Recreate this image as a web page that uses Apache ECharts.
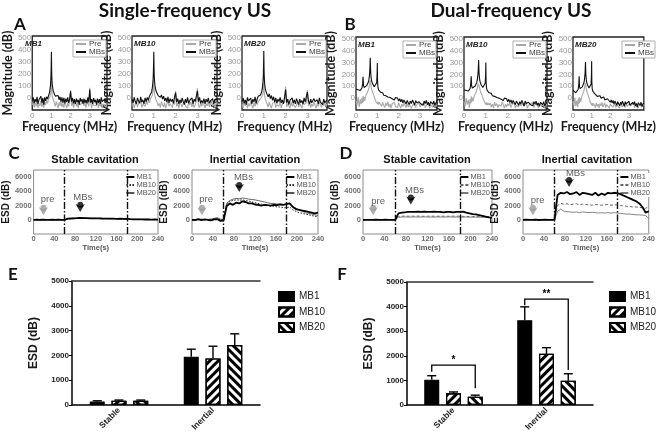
<!DOCTYPE html>
<html><head><meta charset="utf-8">
<script src="https://cdn.jsdelivr.net/npm/echarts/dist/echarts.min.js"></script>
<style>html,body{margin:0;padding:0;background:#fff}#c{width:658px;height:438px}</style>
</head><body><div id="c"></div>
<script>
// ---------------- DATA ----------------
const freqSingle=[0,0.05,0.1,0.15,0.2,0.25,0.3,0.35,0.4,0.45,0.5,0.55,0.6,0.65,0.7,0.75,0.8,0.85,0.9,0.93,0.95,0.97,0.98,0.99,1,1.01,1.02,1.03,1.05,1.07,1.1,1.15,1.2,1.25,1.3,1.35,1.4,1.45,1.5,1.55,1.6,1.65,1.7,1.75,1.8,1.85,1.9,1.95,2,2.05,2.1,2.15,2.2,2.25,2.3,2.35,2.4,2.45,2.5,2.55,2.6,2.65,2.7,2.75,2.8,2.85,2.9,2.95,3,3.05,3.1,3.15,3.2,3.25,3.3,3.35,3.4,3.45,3.5,3.55,3.6,3.65,3.7,3.75,3.8,3.85,3.9];
const sMB1Mbs=[-20,5,-45,-10,-35,10,-50,-15,-30,15,-40,0,-55,5,-25,10,-10,20,45,75,105,155,205,270,385,260,185,145,105,80,55,35,15,30,0,20,-15,10,-30,5,-40,0,-45,-5,-35,5,-40,-10,55,-30,0,-45,-10,-50,-5,-35,-15,-55,0,-30,-10,-50,-5,-40,-15,-45,5,-35,70,-40,-10,-50,0,-35,-15,-55,-5,-40,-10,-50,5,-30,-15,-45,-5,-35,-20];
const sMB1Pre=[-60,-30,-80,-40,-70,-20,-85,-45,-65,-25,-75,-35,-80,-30,-60,-20,-45,-10,0,15,30,50,70,95,140,90,60,35,10,-5,-20,-40,-70,-30,-60,-85,-35,-65,-25,-75,-45,-80,-30,-60,-85,-40,-70,-20,65,-65,-35,-80,-50,-25,-70,-40,-85,-30,-60,-75,-45,-20,-65,-35,-80,-50,-25,-70,85,-40,-85,-30,-60,-75,-45,-65,-25,-80,-40,-70,-30,-85,-50,-60,-35,-75,-45];
const sMB10Mbs=[-10,-40,5,-30,-50,0,-25,-45,10,-35,-15,-50,0,-30,5,-20,15,25,50,80,115,160,215,280,385,265,190,150,110,85,60,40,20,35,5,25,-10,15,-25,0,-35,10,-40,-5,-30,-10,-45,5,45,-35,-5,-50,-15,-40,0,-30,-55,-10,-40,5,-45,-20,-35,0,-50,-10,-30,-45,60,-30,5,-45,-20,-40,-5,-50,-10,-35,0,-45,-25,-40,-5,-50,-15,-30,-10];
const sMB10Pre=[-70,-40,-85,-50,-30,-75,-45,-60,-20,-80,-50,-35,-70,-25,-55,-15,-40,-5,5,20,35,55,80,100,150,95,65,40,15,0,-15,-35,-65,-45,-80,-30,-55,-75,-40,-85,-50,-25,-70,-45,-60,-80,-35,-55,60,-70,-40,-85,-30,-55,-75,-45,-20,-65,-50,-85,-35,-60,-30,-75,-45,-80,-55,-25,80,-60,-80,-40,-70,-30,-55,-85,-45,-65,-35,-75,-50,-25,-70,-40,-80,-55,-35];
const sMB20Mbs=[-30,0,-45,-15,-55,5,-25,-40,0,-50,-10,-35,10,-45,-5,15,0,25,50,75,110,150,200,275,390,255,185,140,100,75,55,30,10,35,-5,20,-20,10,-35,0,-45,-10,-30,5,-40,-15,-50,0,70,-40,-10,-55,-20,-35,0,-45,-15,-50,-5,-30,-55,-10,-40,-20,-50,0,-35,-45,50,-25,-50,-10,-40,-55,-5,-30,-45,-15,-50,0,-35,-20,-55,-10,-40,-25,-15];
const sMB20Pre=[-50,-80,-35,-65,-20,-85,-45,-70,-30,-60,-85,-40,-70,-25,-55,-30,-15,-5,0,10,25,45,65,90,130,85,55,30,10,-10,-25,-50,-75,-35,-65,-85,-45,-60,-30,-80,-55,-40,-70,-25,-85,-50,-65,-35,95,-75,-45,-60,-85,-30,-70,-50,-40,-80,-60,-25,-75,-45,-65,-85,-35,-55,-70,-40,65,-65,-35,-80,-50,-70,-30,-60,-85,-45,-70,-35,-55,-80,-40,-65,-30,-75,-50];

const freqDual=[0,0.05,0.1,0.15,0.2,0.25,0.28,0.31,0.33,0.35,0.38,0.42,0.46,0.5,0.54,0.58,0.61,0.63,0.65,0.66,0.67,0.68,0.69,0.71,0.74,0.78,0.82,0.86,0.9,0.94,0.97,0.99,1,1.01,1.03,1.06,1.1,1.15,1.2,1.25,1.3,1.35,1.4,1.45,1.5,1.55,1.6,1.65,1.7,1.75,1.8,1.85,1.9,1.95,2,2.05,2.1,2.15,2.2,2.25,2.3,2.35,2.4,2.45,2.5,2.55,2.6,2.65,2.7,2.75,2.8,2.85,2.9,2.95,3,3.05,3.1,3.15,3.2,3.25,3.3,3.35,3.4,3.45,3.5,3.55,3.6,3.65,3.7,3.75,3.8];
const dMB1Mbs=[75,60,70,55,65,70,85,120,180,110,90,95,90,105,115,135,160,190,240,290,340,270,220,170,140,120,105,95,90,95,130,200,295,150,90,70,60,50,35,45,25,40,20,30,10,25,5,20,-5,10,-15,5,-10,0,-25,-5,-30,-10,-40,-15,-30,-50,-20,-35,-55,-25,-45,-15,-35,-60,-20,-40,-55,-30,-15,-50,-35,-60,-25,-45,-20,-55,-35,-65,-30,-15,-50,-25,-60,-40,-30];
const dMB1Pre=[-20,-60,10,-75,-10,-50,0,-40,20,-30,10,-20,20,30,50,70,90,110,130,140,150,135,120,95,70,50,30,10,-10,-30,-15,-40,-20,-50,-30,-55,-35,-45,-70,-35,-60,-80,-40,-65,-30,-75,-50,-85,-45,-60,-35,-70,-55,-80,-40,-65,-85,-50,-70,-35,-60,-80,-45,-75,-55,-40,-85,-60,-70,-45,-80,-55,-65,-35,-75,-85,-50,-65,-40,-80,-60,-70,-45,-85,-55,-65,-75,-40,-80,-60,-70];
const dMB10Mbs=[70,55,65,50,60,65,80,125,185,105,85,90,95,100,110,130,155,185,230,275,320,260,210,165,135,115,100,90,85,90,125,195,300,145,85,65,55,45,30,40,20,35,15,25,5,20,0,15,-10,5,-20,0,-15,-5,-30,-10,-35,-15,-45,-20,-35,-55,-25,-40,-60,-30,-50,-20,-40,-65,-25,-45,-60,-35,-20,-55,-40,-65,-30,-50,-25,-60,-40,-70,-35,-20,-55,-30,-65,-45,-35];
const dMB10Pre=[-30,-70,0,-55,-15,-80,-5,-45,15,-35,5,-25,15,25,45,65,85,105,125,135,140,130,110,90,65,45,25,5,-15,-35,-20,-45,-25,-55,-35,-60,-40,-60,-40,-75,-50,-85,-35,-65,-45,-80,-55,-40,-70,-30,-60,-85,-50,-75,-45,-65,-35,-80,-55,-70,-40,-85,-60,-50,-75,-35,-65,-80,-45,-70,-55,-40,-85,-60,-75,-50,-65,-35,-80,-55,-70,-45,-85,-60,-40,-75,-50,-65,-80,-45,-70];
const dMB20Mbs=[65,50,60,45,55,60,75,120,185,100,80,85,90,95,105,125,150,180,220,265,305,250,200,160,130,110,95,85,80,85,120,190,310,140,80,60,50,40,25,35,15,30,10,20,0,15,-5,10,-15,0,-25,-5,-20,-10,-35,-15,-40,-20,-50,-25,-40,-60,-30,-45,-65,-35,-55,-25,-45,-70,-30,-50,-65,-40,-25,-60,-45,-70,-35,-55,-30,-65,-45,-75,-40,-25,-60,-35,-70,-50,-40];
const dMB20Pre=[-25,-65,5,-70,-20,-75,-10,-50,10,-40,0,-30,10,20,40,60,80,100,115,125,135,120,100,80,60,40,20,0,-20,-40,-25,-50,-30,-60,-40,-65,-45,-55,-80,-40,-70,-50,-85,-45,-65,-35,-75,-60,-40,-80,-55,-70,-45,-85,-50,-65,-35,-75,-60,-45,-80,-55,-70,-40,-85,-50,-65,-75,-45,-60,-80,-35,-70,-55,-85,-45,-65,-50,-75,-40,-80,-60,-70,-45,-85,-55,-65,-40,-75,-60,-50];

const timeS=[0,6,12,18,24,30,36,42,48,54,60,66,72,78,84,90,96,102,108,114,120,126,132,138,144,150,156,162,168,174,180,186,192,198,204,210,216,222,228,234,240];
const cStableMB1=[0,10,-10,20,0,-20,10,0,20,-10,0,150,180,200,220,250,230,220,210,200,190,200,180,170,160,170,150,140,150,130,120,80,60,70,50,60,40,50,30,40,20];
const cStableMB10=[0,-10,10,0,10,-10,0,10,0,10,0,120,160,190,210,230,220,200,200,190,180,170,170,160,150,150,140,130,130,120,110,70,60,50,50,40,40,30,30,20,20];
const cStableMB20=[0,0,-10,10,-10,0,10,-10,10,0,0,130,170,210,240,260,250,230,220,210,200,190,180,180,170,160,150,150,140,130,120,90,70,60,60,50,50,40,40,30,30];
const cInertMB1=[0,-50,100,-50,50,0,-100,50,100,-150,-100,1900,2300,2100,2400,2300,2600,2500,2300,2300,2150,2100,2000,2100,2050,2000,2100,2050,2150,2100,2200,2300,1800,1500,1400,1300,1200,1100,1000,900,1000];
const cInertMB10=[0,0,50,-50,0,50,0,100,50,0,-50,2200,2600,2700,2800,2750,2800,2700,2650,2500,2400,2300,2200,2100,2000,1900,1900,1800,1800,1700,1700,1800,1400,1200,1000,900,800,700,600,500,400];
const cInertMB20=[0,50,0,100,0,50,100,200,300,100,0,2300,2700,2900,3000,2950,3050,3000,2900,2850,2800,2700,2600,2500,2400,2300,2300,2200,2200,2150,2200,2350,1900,1600,1400,1200,1000,900,800,700,600];
const dStableMB1=[0,0,0,-20,10,0,-10,10,0,-10,0,900,1000,1050,1100,1100,1100,1150,1100,1150,1100,1100,1150,1100,1100,1050,1100,1100,1050,1100,1100,1150,1000,900,800,750,650,550,450,350,300];
const dStableMB10=[0,0,10,0,-10,0,10,0,0,0,0,450,500,520,500,510,500,520,500,490,500,510,500,490,500,500,490,500,510,500,500,480,470,460,450,450,440,430,420,410,400];
const dStableMB20=[0,0,0,10,0,-10,0,0,10,0,0,350,380,400,380,390,400,380,390,400,380,390,380,400,390,380,390,400,380,390,380,370,380,370,360,370,360,350,360,350,340];
const dInertMB1=[0,20,-20,0,30,-30,0,20,0,-20,0,3500,3800,3700,3900,3600,3700,3900,3500,3800,3700,3600,3500,3800,3400,3700,3500,3800,3700,3800,3750,3600,3400,3200,3000,2800,2600,2300,1800,1000,1200];
const dInertMB10=[0,0,10,0,-10,0,10,0,0,0,0,2000,2300,2200,2250,2100,2200,2250,2100,2200,2150,2100,2050,2150,2100,2050,2100,2150,2050,2100,2100,2000,1950,1900,1850,1800,1800,1750,1700,1600,1900];
const dInertMB20=[0,0,0,10,0,0,-10,0,10,0,0,1200,1500,1200,1150,1100,1050,1100,1000,1100,1050,1000,1050,1000,950,1000,950,1000,950,1000,950,900,850,800,800,750,700,700,650,600,200];
const phaseLines=[60,180];
// annotation anchors [time, ESD]
const annC1={preText:[27,2900],preDot:[19,1700],preArrow:[19,650],mbText:[95,3200],mbDot:[90,2100],mbArrow:[90,1100]};
const annC2={preText:[27,2900],preDot:[19,1700],preArrow:[19,650],mbText:[98,5900],mbDot:[90,4900],mbArrow:[90,3900]};
const annD1={preText:[28,2600],preDot:[19,1700],preArrow:[19,650],mbText:[96,4200],mbDot:[89,3150],mbArrow:[89,2150]};
const annD2={preText:[28,2700],preDot:[19,1700],preArrow:[19,650],mbText:[100,6500],mbDot:[88,5600],mbArrow:[88,4600]};

const barCats=['Stable','Inertial'];
const seriesNames=['MB1','MB10','MB20'];
const eMB1=[140,1950], eMB1Err=[30,300];
const eMB10=[170,1880], eMB10Err=[30,490];
const eMB20=[170,2420], eMB20Err=[30,450];
const fMB1=[1030,3450], fMB1Err=[160,540];
const fMB10=[480,2080], fMB10Err=[50,250];
const fMB20=[340,990], fMB20Err=[60,280];
const sigCat=[0,1], sigLevel=[1620,4300], sigLeftEnd=[1350,4050], sigRightEnd=[680,1420], sigText=['*','**'];

// ---------------- BUILD ----------------
const FT='"Liberation Sans", Arial, sans-serif';
const FC='Lato, "Open Sans", sans-serif';
const grid=[], xAxis=[], yAxis=[], series=[], legend=[], graphic=[];
const zip=(a,b)=>a.map((x,i)=>[x,b[i]]);
const txt=(x,y,t,font,fill,align)=>graphic.push({type:'text',x,y,z:100,style:{text:t,font,fill:fill||'#111',align:align||'center',verticalAlign:'middle'}});

function addSpectrum(box,xmax,freq,pre,mbs,tag,key){
  const gi=grid.length;
  grid.push({left:box[0],top:box[1],width:box[2],height:box[3],show:true,borderColor:'#222',borderWidth:1.3,backgroundColor:'#fff'});
  xAxis.push({gridIndex:gi,type:'value',min:0,max:xmax,interval:1,axisLine:{show:false},axisTick:{show:false},splitLine:{show:false},
    axisLabel:{color:'#9a9a9a',fontSize:8,margin:2,fontFamily:FT,formatter:v=>Number.isInteger(v)?String(v):''},
    name:'Frequency (MHz)',nameLocation:'middle',nameGap:7,nameTextStyle:{fontFamily:FC,fontWeight:'bold',fontSize:12.5,color:'#1a1a1a'}});
  yAxis.push({gridIndex:gi,type:'value',min:-100,max:515,interval:100,axisLine:{show:false},axisTick:{show:false},splitLine:{show:false},
    axisLabel:{color:'#9a9a9a',fontSize:8,margin:1,fontFamily:FT,formatter:v=>(v>=0&&v<=500&&v%100===0)?String(v):''},
    name:'Magnitude (dB)',nameLocation:'middle',nameGap:9,nameTextStyle:{fontFamily:FC,fontWeight:'bold',fontSize:12.5,color:'#1a1a1a'}});
  series.push({name:'Pre|'+key,type:'line',xAxisIndex:gi,yAxisIndex:gi,data:zip(freq,pre),symbol:'none',lineStyle:{color:'#a9a9a9',width:1.1},itemStyle:{color:'#a9a9a9'},z:2});
  series.push({name:'MBs|'+key,type:'line',xAxisIndex:gi,yAxisIndex:gi,data:zip(freq,mbs),symbol:'none',lineStyle:{color:'#111',width:1.1},itemStyle:{color:'#111'},z:3});
  legend.push({data:['Pre|'+key,'MBs|'+key],right:658-(box[0]+box[2])+1,top:box[1]+4,orient:'vertical',itemWidth:10,itemHeight:6,itemGap:0,
    padding:[0,1,1,2],borderColor:'#b0b0b0',borderWidth:1,backgroundColor:'#fff',selectedMode:false,itemStyle:{opacity:0},
    textStyle:{fontSize:8,color:'#444',fontFamily:FT,padding:[0,0,0,-2]},formatter:n=>n.split('|')[0]});
  txt(box[0]+2,box[1]+7.5,tag,'italic bold 8px '+FT,'#222','left');
}
const specH=74;
addSpectrum([23,36,84,specH],3.9,freqSingle,sMB1Pre,sMB1Mbs,'MB1','A1');
addSpectrum([132,36,85,specH],3.9,freqSingle,sMB10Pre,sMB10Mbs,'MB10','A2');
addSpectrum([242,36,85,specH],3.9,freqSingle,sMB20Pre,sMB20Mbs,'MB20','A3');
addSpectrum([356,37,81,73],3.8,freqDual,dMB1Pre,dMB1Mbs,'MB1','B1');
addSpectrum([464,37,83,73],3.8,freqDual,dMB10Pre,dMB10Mbs,'MB10','B2');
addSpectrum([573,37,83,73],3.8,freqDual,dMB20Pre,dMB20Mbs,'MB20','B3');

function addTime(box,s1,s2,s3,key,style2,col3,ann){
  const gi=grid.length;
  grid.push({left:box[0],top:box[1],width:box[2],height:box[3],show:true,borderColor:'#8a8a8a',borderWidth:1,backgroundColor:'#fff'});
  xAxis.push({gridIndex:gi,type:'value',min:0,max:240,interval:40,axisLine:{show:false},axisTick:{show:false},splitLine:{show:false},
    axisLabel:{color:'#707070',fontSize:7.5,fontWeight:'bold',margin:1,fontFamily:FT},
    name:'Time(s)',nameLocation:'middle',nameGap:6,nameTextStyle:{fontFamily:FT,fontWeight:'bold',fontSize:7.5,color:'#555'}});
  yAxis.push({gridIndex:gi,type:'value',min:-2000,max:7000,interval:2000,axisLine:{show:false},axisTick:{show:false},splitLine:{show:false},
    axisLabel:{color:'#707070',fontSize:7.5,fontWeight:'bold',margin:2,fontFamily:FT,formatter:v=>(v>=0&&v<=6000)?String(v):''},
    name:'ESD (dB)',nameLocation:'middle',nameGap:12,nameTextStyle:{fontFamily:FT,fontWeight:'bold',fontSize:10,color:'#1a1a1a'}});
  const base={type:'line',xAxisIndex:gi,yAxisIndex:gi,symbol:'none'};
  series.push(Object.assign({},base,{name:'MB1|'+key,data:zip(timeS,s1),lineStyle:{color:'#000',width:1.8},itemStyle:{color:'#000'},z:4,
    markLine:{silent:true,symbol:'none',label:{show:false},lineStyle:{color:'#111',width:1.4,type:[7,2,1.5,2]},data:phaseLines.map(v=>({xAxis:v}))}}));
  series.push(Object.assign({},base,{name:'MB10|'+key,data:zip(timeS,s2),lineStyle:style2,itemStyle:{color:style2.color},z:3}));
  series.push(Object.assign({},base,{name:'MB20|'+key,data:zip(timeS,s3),lineStyle:{color:col3,width:0.9},itemStyle:{color:col3},z:3}));
  legend.push({data:['MB1|'+key,'MB10|'+key,'MB20|'+key],right:658-(box[0]+box[2])+1,top:box[1]+3,orient:'vertical',itemWidth:8,itemHeight:5,itemGap:0,
    padding:[0,1,0,1],backgroundColor:'#fff',selectedMode:false,itemStyle:{opacity:0},textStyle:{fontSize:7.5,color:'#555',fontFamily:FT,padding:[0,0,0,-3]},formatter:n=>n.split('|')[0]});
  series.push({type:'scatter',xAxisIndex:gi,yAxisIndex:gi,symbol:'circle',symbolSize:6,z:6,silent:true,
    data:[{value:ann.preDot,itemStyle:{color:'#9a9a9a'}},{value:ann.mbDot,itemStyle:{color:'#000'}}]});
  series.push({type:'scatter',xAxisIndex:gi,yAxisIndex:gi,symbol:'arrow',symbolRotate:180,symbolSize:[7,8],z:6,silent:true,
    data:[{value:ann.preArrow,itemStyle:{color:'#9a9a9a'}},{value:ann.mbArrow,itemStyle:{color:'#000'}}]});
  series.push({type:'scatter',xAxisIndex:gi,yAxisIndex:gi,symbolSize:0,z:6,silent:true,
    label:{show:true,position:'inside',formatter:p=>p.name,fontSize:9.5,color:'#333',fontFamily:FT},
    data:[{name:'pre',value:ann.preText},{name:'MBs',value:ann.mbText}]});
}
addTime([32,170,126,64],cStableMB1,cStableMB10,cStableMB20,'C1',{color:'#222',width:1,type:[1.5,1.5]},'#555',annC1);
addTime([192,170,126,64],cInertMB1,cInertMB10,cInertMB20,'C2',{color:'#222',width:1,type:[1.5,1.5]},'#555',annC2);
addTime([363,170,129,64],dStableMB1,dStableMB10,dStableMB20,'D1',{color:'#666',width:1,type:[3,2]},'#777',annD1);
addTime([523,170,129,64],dInertMB1,dInertMB10,dInertMB20,'D2',{color:'#666',width:1,type:[3,2]},'#777',annD2);

const BAR_W=15, BAR_GAP=0.45, BAR_STEP=BAR_W*(1+BAR_GAP);
const hatch=rot=>({symbol:'rect',symbolSize:1,color:'#000',dashArrayX:[1,0],dashArrayY:[2.2,2.8],rotation:rot});
const barStyles=[{color:'#000',borderColor:'#000',borderWidth:1.2},
  {color:'#fff',borderColor:'#000',borderWidth:1.2,decal:hatch(-Math.PI/4)},
  {color:'#fff',borderColor:'#000',borderWidth:1.2,decal:hatch(Math.PI/4)}];

function addBars(box,vals,errs,key,legPos,sig){
  const gi=grid.length;
  grid.push({left:box[0],top:box[1],width:box[2],height:box[3]});
  const xi=xAxis.length;
  xAxis.push({gridIndex:gi,type:'category',data:barCats,axisLine:{lineStyle:{color:'#000',width:1.5}},axisTick:{alignWithLabel:true,length:3,lineStyle:{color:'#000'}},
    axisLabel:{rotate:45,fontSize:8.5,fontWeight:'bold',color:'#222',fontFamily:FT,margin:4}});
  xAxis.push({gridIndex:gi,type:'category',position:'top',data:barCats,axisLine:{lineStyle:{color:'#333',width:1.5}},axisTick:{show:false},axisLabel:{show:false}});
  yAxis.push({gridIndex:gi,type:'value',min:0,max:5000,interval:1000,axisLine:{show:true,lineStyle:{color:'#000',width:1.5}},axisTick:{show:true,length:3,lineStyle:{color:'#000'}},
    splitLine:{show:false},axisLabel:{fontSize:8,fontWeight:'bold',color:'#222',fontFamily:FT,margin:3,formatter:v=>String(v)},
    name:'ESD (dB)',nameLocation:'middle',nameGap:32,nameTextStyle:{fontFamily:FT,fontWeight:'bold',fontSize:12,color:'#1a1a1a'}});
  vals.forEach((v,i)=>{
    series.push({name:seriesNames[i]+'|'+key,type:'bar',xAxisIndex:xi,yAxisIndex:gi,data:v,barWidth:BAR_W,barGap:(BAR_GAP*100)+'%',itemStyle:barStyles[i],z:2});
  });
  vals.forEach((v,i)=>{
    const off=(i-1)*BAR_STEP;
    series.push({type:'custom',xAxisIndex:xi,yAxisIndex:gi,z:3,silent:true,data:v.map((y,c)=>[c,y,errs[i][c]]),
      renderItem:(p,api)=>{
        const b=api.coord([api.value(0),api.value(1)]), t=api.coord([api.value(0),api.value(1)+api.value(2)]);
        const x=b[0]+off, st={stroke:'#000',lineWidth:1.4};
        return {type:'group',children:[{type:'line',shape:{x1:x,y1:b[1],x2:x,y2:t[1]},style:st},{type:'line',shape:{x1:x-4.5,y1:t[1],x2:x+4.5,y2:t[1]},style:st}]};
      }});
  });
  legend.push({data:seriesNames.map(n=>n+'|'+key),left:legPos[0],top:legPos[1],orient:'vertical',icon:'rect',itemWidth:15,itemHeight:9,itemGap:4.5,selectedMode:false,
    textStyle:{fontSize:10,color:'#222',fontFamily:FT},formatter:n=>n.split('|')[0]});
  if(sig){
    series.push({type:'custom',xAxisIndex:xi,yAxisIndex:gi,z:4,silent:true,data:sig.cat.map((c,k)=>[c,sig.level[k],sig.left[k],sig.right[k],k]),
      renderItem:(p,api)=>{
        const c=api.value(0), L=api.coord([c,api.value(1)]), l=api.coord([c,api.value(2)]), r=api.coord([c,api.value(3)]);
        const x1=L[0]-BAR_STEP, x2=L[0]+BAR_STEP, st={stroke:'#000',lineWidth:1.3};
        return {type:'group',children:[
          {type:'polyline',shape:{points:[[x1,l[1]],[x1,L[1]],[x2,L[1]],[x2,r[1]]]},style:Object.assign({fill:null},st)},
          {type:'text',x:L[0],y:L[1]-5,style:{text:sig.text[api.value(4)],font:'bold 10px '+FT,fill:'#000',align:'center',verticalAlign:'middle'}}]};
      }});
  }
}
addBars([72,281,188,124],[eMB1,eMB10,eMB20],[eMB1Err,eMB10Err,eMB20Err],'E',[273,286],null);
addBars([407,282,186,123],[fMB1,fMB10,fMB20],[fMB1Err,fMB10Err,fMB20Err],'F',[604,286],{cat:sigCat,level:sigLevel,left:sigLeftEnd,right:sigRightEnd,text:sigText});

// headings
txt(185,11,'Single-frequency US','bold 19px '+FC);
txt(511,11,'Dual-frequency US','bold 19px '+FC);
[['A',20,25],['B',350,25],['C',14,154],['D',346,154],['E',13,275],['F',342,275]].forEach(a=>txt(a[1],a[2],a[0],'bold 17px '+FC));
txt(95,160,'Stable cavitation','bold 11px '+FT);
txt(255,160,'Inertial cavitation','bold 11px '+FT);
txt(427,160,'Stable cavitation','bold 11px '+FT);
txt(587,160,'Inertial cavitation','bold 11px '+FT);

const chart=echarts.init(document.getElementById('c'),null,{renderer:'canvas'});
chart.setOption({animation:false,backgroundColor:'#fff',grid,xAxis,yAxis,series,legend,graphic});
</script></body></html>
